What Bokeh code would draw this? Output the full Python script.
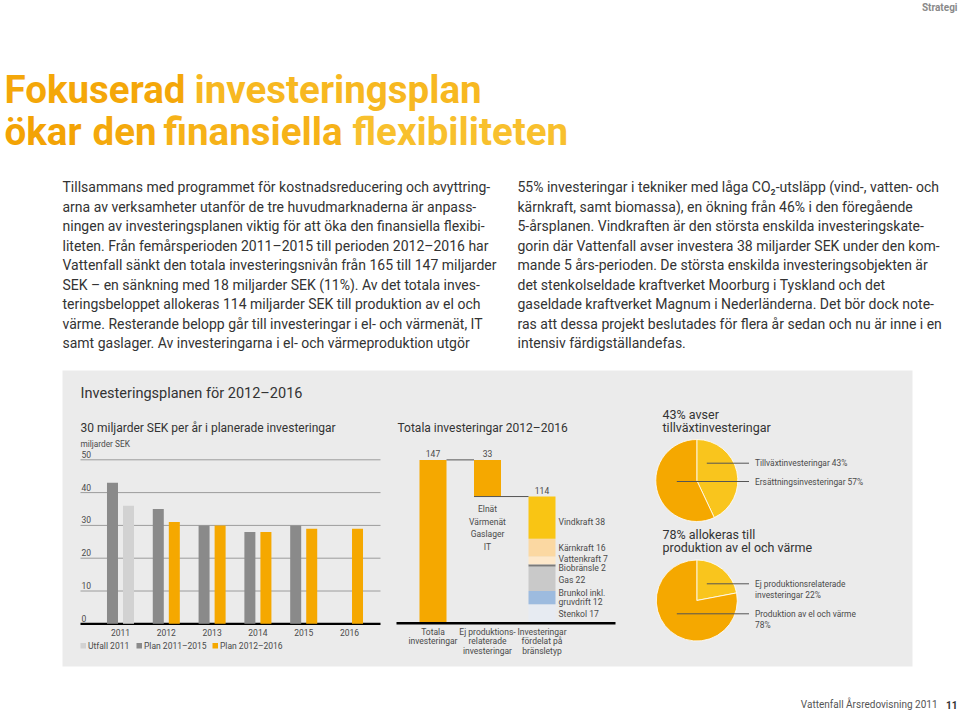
import numpy as np
from bokeh.plotting import figure
from bokeh.models import Range1d
from bokeh.core.properties import value
from bokeh.embed import file_html
from bokeh.resources import INLINE

# ---------------- data ----------------
years = ["2011", "2012", "2013", "2014", "2015", "2016"]
plan_2011_2015 = [43, 35, 30, 28, 30, None]
utfall_2011 = [36, None, None, None, None, None]
plan_2012_2016 = [None, 31, 30, 28, 29, 29]
bar_ticks = [0, 10, 20, 30, 40, 50]
bar_legend = ["Utfall 2011", "Plan 2011–2015", "Plan 2012–2016"]

total_inv = 147
non_prod_inv = 33
prod_inv = 114
wf_categories = [["Totala", "investeringar"],
                 ["Ej produktions-", "relaterade", "investeringar"],
                 ["Investeringar", "fördelat på", "bränsletyp"]]
non_prod_items = ["Elnät", "Värmenät", "Gaslager", "IT"]
fuel_names = [["Stenkol"], ["Brunkol inkl.", "gruvdrift"], ["Gas"], ["Biobränsle"],
              ["Vattenkraft"], ["Kärnkraft"], ["Vindkraft"]]
fuel_values = [17, 12, 22, 2, 7, 16, 38]

growth_labels = [["Tillväxtinvesteringar {}%"], ["Ersättningsinvesteringar {}%"]]
growth_shares = [43, 57]
prod_labels = [["Ej produktionsrelaterade", "investeringar {}%"],
               ["Produktion av el och värme", "{}%"]]
prod_shares = [22, 78]

title_words = [["Fokuserad", "investeringsplan"],
               ["ökar", "den", "finansiella", "flexibiliteten"]]
left_col = [
    "Tillsammans med programmet för kostnadsreducering och avyttring-",
    "arna av verksamheter utanför de tre huvudmarknaderna är anpass-",
    "ningen av investeringsplanen viktig för att öka den finansiella flexibi-",
    "liteten. Från femårsperioden 2011–2015 till perioden 2012–2016 har",
    "Vattenfall sänkt den totala investeringsnivån från 165 till 147 miljarder",
    "SEK – en sänkning med 18 miljarder SEK (11%). Av det totala inves-",
    "teringsbeloppet allokeras 114 miljarder SEK till produktion av el och",
    "värme. Resterande belopp går till investeringar i el- och värmenät, IT",
    "samt gaslager. Av investeringarna i el- och värmeproduktion utgör",
]
right_col = [
    "55% investeringar i tekniker med låga CO₂-utsläpp (vind-, vatten- och",
    "kärnkraft, samt biomassa), en ökning från 46% i den föregående",
    "5-årsplanen. Vindkraften är den största enskilda investeringskate-",
    "gorin där Vattenfall avser investera 38 miljarder SEK under den kom-",
    "mande 5 års-perioden. De största enskilda investeringsobjekten är",
    "det stenkolseldade kraftverket Moorburg i Tyskland och det",
    "gaseldade kraftverket Magnum i Nederländerna. Det bör dock note-",
    "ras att dessa projekt beslutades för flera år sedan och nu är inne i en",
    "intensiv färdigställandefas.",
]

# ---------------- style ----------------
FONT = "Roboto"
ORANGE = "#f5a800"
YELLOW = "#f9c51d"
DARK = "#8a8a8a"
LIGHT = "#d2d2d2"
PANEL = "#ebebeb"
TXT = "#333333"
LBL = "#4a4a4a"
fuel_colors = ["#e7ebf2", "#9dbbdf", "#c9c9c9", "#7a7a7a", "#fde8cb", "#fbd8a2", "#f9c514"]
fuel_label_dy = [0, 0, 1, 3, -1, 0, 4]
title_word_x = [[4, 194], [4, 92, 163, 352]]
title_word_w = [[180, 285], [78, 61, 179, 215]]

W, H = 960, 711
p = figure(width=W, height=H, x_range=Range1d(0, W), y_range=Range1d(H, 0),
           output_backend="svg", toolbar_location=None, min_border=0,
           x_axis_location=None, y_axis_location=None,
           background_fill_color="white", border_fill_color="white",
           outline_line_color=None)
p.grid.visible = False


def txt(x, y, s, size, color=TXT, align="left", baseline="middle", style="normal",
        xr="default", yr="default", dx=0, dy=0):
    p.text(x=[x], y=[y], text=[s], text_font=value(FONT), text_font_size=f"{size}px",
           text_color=color, text_align=align, text_baseline=baseline,
           text_font_style=style, x_range_name=xr, y_range_name=yr,
           x_offset=dx, y_offset=dy)


def grad(t):
    a = np.array([0xf3, 0xa1, 0x00])
    b = np.array([0xfa, 0xc8, 0x38])
    c = (a + (b - a) * min(max(t, 0), 1)).astype(int)
    return "#%02x%02x%02x" % tuple(c)


# header / footer
txt(957, 6.5, "Strategi", 10, color="#8a8a8a", align="right", style="bold")
for i, words in enumerate(title_words):
    for w, xw, ww in zip(words, title_word_x[i], title_word_w[i]):
        txt(xw, 89 + 42 * i, w, 38.5, color=grad((xw + ww / 2) / 570), style="bold")
for i, s in enumerate(left_col):
    txt(62, 186.5 + 19.5 * i, s, 14)
for i, s in enumerate(right_col):
    txt(517, 186.5 + 19.5 * i, s, 14)
txt(937, 704, "Vattenfall Årsredovisning 2011", 10, color="#555555", align="right")
txt(945.5, 704, "11", 10, color="#333333", style="bold")

# panel
p.quad(left=62, right=912, top=370, bottom=666, fill_color=PANEL, line_color=None)
txt(80, 393, "Investeringsplanen för 2012–2016", 14.5)

# ---------------- bar chart ----------------
BAR_BASE, BAR_PX = 623.3, 3.28
YR_X0, YR_DX = 120.0, 45.8
p.extra_y_ranges["bars"] = Range1d((BAR_BASE - H) / BAR_PX, BAR_BASE / BAR_PX)
p.extra_x_ranges["years"] = Range1d((0 - YR_X0) / YR_DX, (W - YR_X0) / YR_DX)

txt(80, 427, "30 miljarder SEK per år i planerade investeringar", 12)
txt(80, 443, "miljarder SEK", 8.3, color=LBL)
for t in bar_ticks:
    if t == 0:
        p.segment(x0=[80], x1=[380], y0=[t], y1=[t], y_range_name="bars",
                  line_color="black", line_width=2.2)
    else:
        p.segment(x0=[80], x1=[380], y0=[t], y1=[t], y_range_name="bars",
                  line_color="#9c9c9c", line_width=1)
    txt(81, t, str(t), 8.5, color=LBL, baseline="bottom", yr="bars", dy=-2)

BW = 11 / YR_DX
OFF = 0.175


def bars(vals, off, color):
    xs = [i + off for i, v in enumerate(vals) if v is not None]
    ts = [v for v in vals if v is not None]
    p.vbar(x=xs, top=ts, bottom=0, width=BW, fill_color=color, line_color=None,
           x_range_name="years", y_range_name="bars")


bars(plan_2011_2015, -OFF, DARK)
bars(utfall_2011, OFF, LIGHT)
bars(plan_2012_2016, OFF, ORANGE)
p.text(x=list(range(len(years))), y=[632] * len(years), text=years,
       text_font=value(FONT), text_font_size="8.5px", text_color=LBL,
       text_align="center", text_baseline="middle", x_range_name="years")

leg_x = [80, 136, 212]
leg_c = [LIGHT, DARK, ORANGE]
for x, c, s in zip(leg_x, leg_c, bar_legend):
    p.quad(left=x, right=x + 5.5, top=642.5, bottom=648, fill_color=c, line_color=None)
    txt(x + 7.5, 645.5, s, 8.5, color=LBL)

# ---------------- waterfall ----------------
WF_BASE, WF_PX = 622.7, 1.111
WF_X0, WF_DX = 432.5, 54.5
p.extra_y_ranges["wf"] = Range1d((WF_BASE - H) / WF_PX, WF_BASE / WF_PX)
p.extra_x_ranges["wfx"] = Range1d((0 - WF_X0) / WF_DX, (W - WF_X0) / WF_DX)
WBW = 27 / WF_DX

txt(397, 427, "Totala investeringar 2012–2016", 12)
p.vbar(x=[0], bottom=[0], top=[total_inv], width=WBW, fill_color=ORANGE, line_color=None,
       x_range_name="wfx", y_range_name="wf")
p.vbar(x=[1], bottom=[total_inv - non_prod_inv], top=[total_inv], width=WBW,
       fill_color=ORANGE, line_color=None, x_range_name="wfx", y_range_name="wf")
tops = np.cumsum(fuel_values)
bottoms = tops - np.array(fuel_values)
p.vbar(x=[2] * len(fuel_values), bottom=bottoms, top=tops, width=WBW,
       fill_color=fuel_colors, line_color=None, x_range_name="wfx", y_range_name="wf")
p.segment(x0=[WBW / 2, 1 - WBW / 2], x1=[1 - WBW / 2, 2 - WBW / 2],
          y0=[total_inv, prod_inv], y1=[total_inv, prod_inv], line_color="#555555",
          line_width=1, x_range_name="wfx", y_range_name="wf")
p.segment(x0=[396], x1=[615], y0=[0], y1=[0], line_color="black", line_width=2.4,
          y_range_name="wf")
for i, v in enumerate([total_inv, non_prod_inv, prod_inv]):
    top = total_inv if i < 2 else prod_inv
    txt(i, top, str(v), 8.5, color=LBL, align="center", baseline="bottom",
        xr="wfx", yr="wf", dy=-3)
for j, s in enumerate(non_prod_items):
    txt(1, 508.5 + 12.7 * j, s, 8.5, color=LBL, align="center", xr="wfx")
for k, (names, v) in enumerate(zip(fuel_names, fuel_values)):
    mid = (tops[k] + bottoms[k]) / 2
    lines = list(names)
    lines[-1] = lines[-1] + " " + str(v)
    n = len(lines)
    for m, s in enumerate(lines):
        txt(2 + WBW / 2, mid, s, 8.6, color=LBL, xr="wfx", yr="wf", dx=3,
            dy=fuel_label_dy[k] + (m - (n - 1) / 2) * 8.5)
for i, lines in enumerate(wf_categories):
    for m, s in enumerate(lines):
        txt(i, 631 + 9.6 * m, s, 8.5, color=LBL, align="center", xr="wfx")

# ---------------- pies ----------------


def pie(cx, cy, r, shares, labels, title, ty, ly):
    for m, s in enumerate(title):
        txt(662, ty + 13.3 * m, s, 12.5)
    fr = np.array(shares) / sum(shares)
    cum = np.concatenate([[0], np.cumsum(fr)])
    start = np.pi / 2 - 2 * np.pi * cum[:-1]
    end = np.pi / 2 - 2 * np.pi * cum[1:]
    p.wedge(x=[cx] * len(fr), y=[cy] * len(fr), radius=r, radius_units="screen",
            start_angle=start, end_angle=end, direction="clock",
            fill_color=[YELLOW, ORANGE], line_color="white", line_width=0.8)
    x_in = [cx + 10, cx - 20]
    for k, (lab, share) in enumerate(zip(labels, shares)):
        lines = [s.format(share) for s in lab]
        p.segment(x0=[x_in[k]], x1=[748.5], y0=[ly[k]], y1=[ly[k]],
                  line_color="#555555", line_width=1)
        for m, s in enumerate(lines):
            txt(754.5, ly[k] + 11.5 * m, s, 8.4, color=LBL)


pie(696.3, 480, 41, growth_shares, growth_labels,
    ["43% avser", "tillväxtinvesteringar"], 414, [462.7, 481])
pie(696.3, 600, 40.5, prod_shares, prod_labels,
    ["78% allokeras till", "produktion av el och värme"], 534, [583.3, 613.3])

open("out.html", "w").write(file_html(p, INLINE))
